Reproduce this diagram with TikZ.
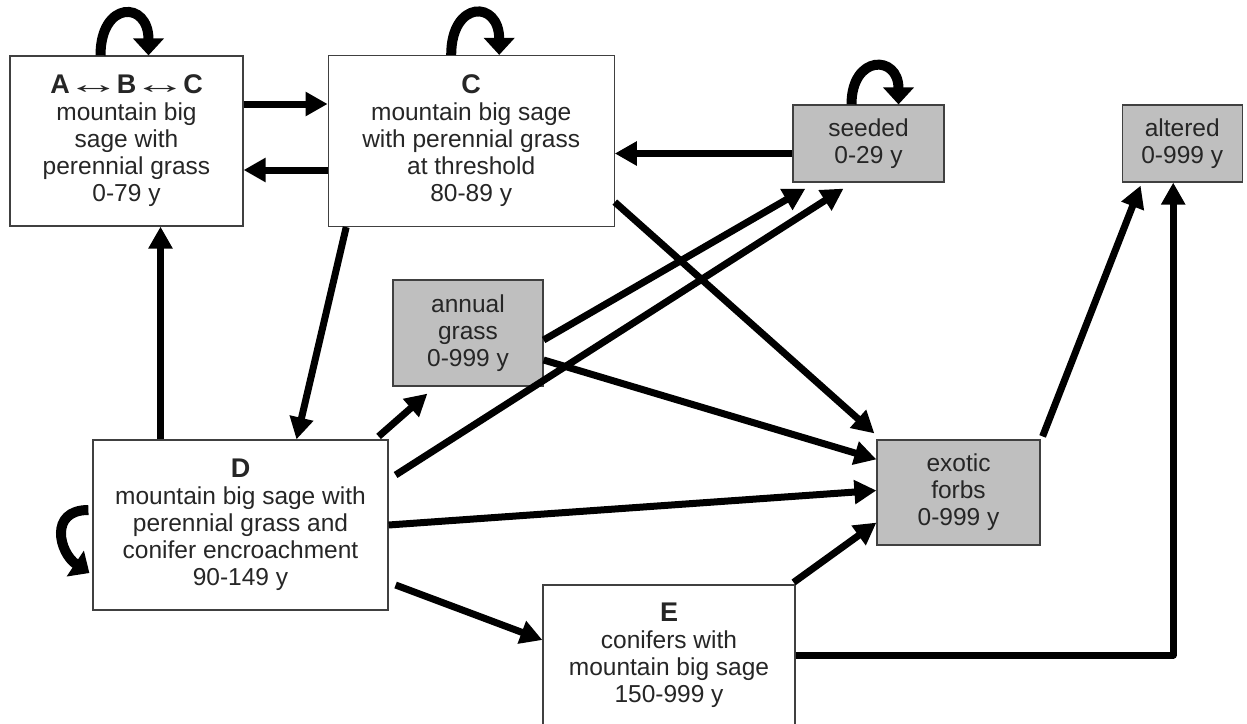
\documentclass[tikz,border=0pt]{standalone}
\usepackage{fontspec}
\setmainfont{Liberation Sans}
\usepackage{graphicx}
\usepackage{tikz}
\usetikzlibrary{positioning,arrows.meta,calc}

\newcommand{\hd}[1]{{\fontsize{27}{28}\selectfont\bfseries #1}}
\newcommand{\lra}{{\mdseries\kern-3.5pt\scalebox{2}[1]{↔}\kern-3.5pt}}

\begin{document}
\begin{tikzpicture}[
  x=1pt, y=1pt,
  box/.style={draw=black!75, line width=1.2pt, fill=white, align=center, text=black!85, font=\fontsize{24.5}{27}\selectfont, inner sep=2pt},
  alt/.style={box, fill=black!25},
  arr/.style={-{Triangle[length=22pt,width=23pt]}, line width=7pt},
  self/.style={-{Triangle[length=17pt,width=30pt]}, line width=10pt}
]
\useasboundingbox (0,0) rectangle (1247,-723);

\node[box, minimum width=233pt, minimum height=170pt] (abc) at (126.5,-141) {\hd{A\lra B\lra C}\\mountain big\\sage with\\perennial grass\\0-79 y};
\node[box, right=84pt of abc, minimum width=286pt, minimum height=171pt] (thr) {\hd{C}\\mountain big sage\\with perennial grass\\at threshold\\80-89 y};
\node[alt, minimum width=151pt, minimum height=77pt] (seed) at (868.5,-143.5) {seeded\\0-29 y};
\node[alt, right=177pt of seed, minimum width=120pt, minimum height=77pt] (altd) {altered\\0-999 y};
\node[alt, minimum width=150pt, minimum height=106pt] (ann) at (468,-333) {annual\\grass\\0-999 y};
\node[box, minimum width=295pt, minimum height=170pt] (d) at (240.5,-525) {\hd{D}\\mountain big sage with\\perennial grass and\\conifer encroachment\\90-149 y};
\node[alt, minimum width=163pt, minimum height=105pt] (ex) at (958.5,-492.5) {exotic\\forbs\\0-999 y};
\node[box, minimum width=252pt, minimum height=140pt] (e) at (669,-655) {\hd{E}\\conifers with\\mountain big sage\\150-999 y};

% self transitions
\draw[self] ([xshift=-26pt]abc.north) .. controls +(0,55) and +(0,55) .. ([xshift=22pt]abc.north);
\draw[self] ([xshift=-20pt]thr.north) .. controls +(0,55) and +(0,55) .. ([xshift=28pt]thr.north);
\draw[self] ([xshift=-17pt]seed.north) .. controls +(0,50) and +(0,50) .. ([xshift=30pt]seed.north);
\draw[self] ([xshift=-4pt,yshift=15pt]d.west) .. controls +(-40,0) and +(-30,20) .. ([xshift=-3pt,yshift=-48pt]d.west);

% transitions
\draw[arr] ([yshift=37pt]abc.east) -- ([yshift=37pt]abc.east -| thr.west);
\draw[arr] ([yshift=-29pt]thr.west) -- ([yshift=-29pt]thr.west -| abc.east);
\draw[arr] ([xshift=-80pt]d.north) -- ([xshift=-80pt]d.north |- abc.south);
\draw[arr] ([xshift=-125pt]thr.south) -- ([xshift=56pt]d.north);
\draw[arr] ([yshift=-10pt]seed.west) -- ([yshift=-10pt]seed.west -| thr.east);
\draw[arr] ([xshift=-10pt,yshift=3pt]d.north east) -- ([xshift=35pt,yshift=-7pt]ann.south west);
\draw[arr] ([yshift=-7pt]ann.east) -- ([xshift=13pt,yshift=-6pt]seed.south west);
\draw[arr] ([xshift=7pt,yshift=50pt]d.east) -- ([xshift=-25pt,yshift=-6pt]seed.south);
\draw[arr] ([yshift=-27pt]ann.east) -- ([yshift=-20pt]ex.north west);
\draw[arr] ([yshift=25pt]thr.south east) -- ([xshift=-2pt,yshift=6pt]ex.north west);
\draw[arr] (d.east) -- ([yshift=2pt]ex.west);
\draw[arr] ([xshift=7pt,yshift=-60pt]d.east) -- ([yshift=15pt]e.west);
\draw[arr] ([xshift=-2pt,yshift=2pt]e.north east) -- ([yshift=23pt]ex.south west);
\draw[arr] ([xshift=2pt,yshift=3pt]ex.north east) -- ([xshift=19pt,yshift=-3pt]altd.south west);
\draw[arr, line join=round] (e.east) -| ([xshift=-9pt]altd.south);
\end{tikzpicture}
\end{document}
